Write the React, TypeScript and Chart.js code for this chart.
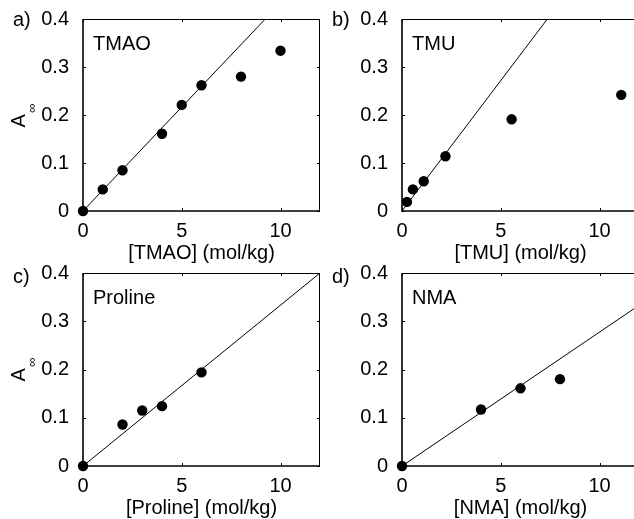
import React, { useEffect, useRef } from 'react';
import { Chart, registerables } from 'chart.js';

Chart.register(...registerables);

const FONT = '"Liberation Sans", Arial, Helvetica, sans-serif';
const FS = 20;

// ---- data ----
const tmaoX = [0, 1, 2, 4, 5, 6, 8, 10];
const tmaoY = [0, 0.045, 0.085, 0.161, 0.221, 0.262, 0.28, 0.334];
const tmaoFitX = [0, 9.23];
const tmaoFitY = [0, 0.4];

const tmuX = [0.25, 0.55, 1.1, 2.2, 5.55, 11.1];
const tmuY = [0.019, 0.045, 0.062, 0.114, 0.191, 0.242];
const tmuFitX = [0, 7.36];
const tmuFitY = [0, 0.4];

const prolineX = [0, 2, 3, 4, 6];
const prolineY = [0, 0.086, 0.115, 0.124, 0.194];
const prolineFitX = [0, 12];
const prolineFitY = [0, 0.4];

const nmaX = [0, 4, 6, 8];
const nmaY = [0, 0.117, 0.161, 0.18];
const nmaFitX = [0, 12];
const nmaFitY = [0, 0.333];

const xTicks = [0, 5, 10];
const yTicks = [0, 0.1, 0.2, 0.3, 0.4];
const xMin = 0;
const xMax = 12;
const yMin = 0;
const yMax = 0.4;

type PanelProps = {
  plotLeft: number;
  plotTop: number;
  plotW: number;
  plotH: number;
  xs: number[];
  ys: number[];
  fitX: number[];
  fitY: number[];
  letter: string;
  letterBaseline: number; // page y
  name: string;
  xTitle: string;
  showYTitle: boolean;
};

const LEFT = 83;
const TOP = 19;
const RIGHT_PAD = 12;
const BOTTOM = 60;

function Panel(p: PanelProps) {
  const ref = useRef<HTMLCanvasElement | null>(null);
  const canvasLeft = p.plotLeft - LEFT;
  const canvasTop = p.plotTop - TOP;
  const width = LEFT + p.plotW + RIGHT_PAD;
  const height = TOP + p.plotH + BOTTOM;

  useEffect(() => {
    if (!ref.current) return;
    const decor = {
      id: 'decor',
      beforeDatasetsDraw(chart: any) {
        const { ctx, chartArea: a, scales } = chart;
        const xs = scales.x;
        const ys = scales.y;
        ctx.save();
        ctx.strokeStyle = '#000';
        ctx.lineWidth = 1;
        // box
        ctx.beginPath();
        ctx.moveTo(a.left, a.top + 0.5);
        ctx.lineTo(a.right, a.top + 0.5);
        ctx.moveTo(a.right - 0.5, a.top);
        ctx.lineTo(a.right - 0.5, a.bottom);
        ctx.stroke();
        ctx.lineWidth = 1.6;
        ctx.beginPath();
        ctx.moveTo(a.left, a.top);
        ctx.lineTo(a.left, a.bottom);
        ctx.lineTo(a.right, a.bottom);
        ctx.stroke();
        // inward ticks
        ctx.lineWidth = 1;
        const tl = 3;
        ctx.beginPath();
        for (const v of xTicks) {
          const px = Math.round(xs.getPixelForValue(v)) + 0.5;
          ctx.moveTo(px, a.bottom);
          ctx.lineTo(px, a.bottom - tl);
          ctx.moveTo(px, a.top);
          ctx.lineTo(px, a.top + tl);
        }
        for (const v of yTicks) {
          const py = Math.round(ys.getPixelForValue(v)) + 0.5;
          ctx.moveTo(a.left, py);
          ctx.lineTo(a.left + tl, py);
          ctx.moveTo(a.right, py);
          ctx.lineTo(a.right - tl, py);
        }
        ctx.stroke();
        ctx.restore();
      },
      afterDraw(chart: any) {
        const { ctx, chartArea: a } = chart;
        ctx.save();
        ctx.fillStyle = '#000';
        ctx.font = `${FS}px ${FONT}`;
        ctx.textBaseline = 'alphabetic';
        // panel letter
        ctx.textAlign = 'left';
        ctx.fillText(p.letter, a.left - 70, p.letterBaseline - canvasTop);
        // inset name
        ctx.fillText(p.name, a.left + 10, a.top + 31);
        // x title
        ctx.textAlign = 'center';
        ctx.fillText(p.xTitle, (a.left + a.right) / 2, a.bottom + 48);
        // y title A_inf
        if (p.showYTitle) {
          ctx.translate(25, a.top + 108.5);
          ctx.rotate(-Math.PI / 2);
          ctx.textAlign = 'left';
          ctx.font = `${FS}px ${FONT}`;
          ctx.fillText('A', 0, 0);
          const aw = ctx.measureText('A').width;
          ctx.font = `13px ${FONT}`;
          ctx.fillText('\u221E', aw + 1.5, 11);
        }
        ctx.restore();
      },
    };

    const chart = new Chart(ref.current, {
      type: 'scatter',
      data: {
        datasets: [
          {
            data: p.xs.map((x, i) => ({ x, y: p.ys[i] })),
            backgroundColor: '#000',
            borderColor: '#000',
            borderWidth: 0,
            pointRadius: 5.2,
            pointHoverRadius: 5.2,
            clip: false,
            order: 0,
          } as any,
          {
            data: p.fitX.map((x, i) => ({ x, y: p.fitY[i] })),
            showLine: true,
            borderColor: '#000',
            borderWidth: 1,
            pointRadius: 0,
            order: 1,
          } as any,
        ],
      },
      options: {
        responsive: false,
        animation: false,
        events: [],
        layout: { padding: { left: 0, top: TOP, right: RIGHT_PAD, bottom: 0 } },
        plugins: {
          legend: { display: false },
          tooltip: { enabled: false },
          title: { display: false },
        },
        scales: {
          x: {
            type: 'linear',
            min: xMin,
            max: xMax,
            grid: { display: false },
            border: { display: false },
            afterFit: (s: any) => {
              s.height = BOTTOM;
            },
            afterBuildTicks: (s: any) => {
              s.ticks = xTicks.map((v) => ({ value: v }));
            },
            ticks: {
              padding: 0,
              color: '#000',
              font: { family: FONT, size: FS },
              maxRotation: 0,
              autoSkip: false,
              callback: (v: any) => String(v),
            },
          },
          y: {
            type: 'linear',
            min: yMin,
            max: yMax,
            grid: { display: false },
            border: { display: false },
            afterFit: (s: any) => {
              s.width = LEFT;
            },
            afterBuildTicks: (s: any) => {
              s.ticks = yTicks.map((v) => ({ value: v }));
            },
            ticks: {
              padding: 6,
              color: '#000',
              font: { family: FONT, size: FS },
              autoSkip: false,
              callback: (v: any) => String(+Number(v).toFixed(1)),
            },
          },
        },
      },
      plugins: [decor],
    } as any);
    return () => chart.destroy();
  }, []);

  return (
    <canvas
      ref={ref}
      width={width}
      height={height}
      style={{ position: 'absolute', left: canvasLeft, top: canvasTop, width, height, display: 'block' }}
    />
  );
}

export default function App() {
  return (
    <div
      style={{
        position: 'fixed',
        left: 0,
        top: 0,
        width: 634,
        height: 519,
        overflow: 'hidden',
        background: '#fff',
      }}
    >
      <Panel plotLeft={83} plotTop={19} plotW={237} plotH={192} xs={tmaoX} ys={tmaoY} fitX={tmaoFitX} fitY={tmaoFitY}
        letter="a)" letterBaseline={26} name="TMAO" xTitle="[TMAO] (mol/kg)" showYTitle={true} />
      <Panel plotLeft={402} plotTop={19} plotW={237} plotH={192} xs={tmuX} ys={tmuY} fitX={tmuFitX} fitY={tmuFitY}
        letter="b)" letterBaseline={26} name="TMU" xTitle="[TMU] (mol/kg)" showYTitle={false} />
      <Panel plotLeft={83} plotTop={273} plotW={237} plotH={193} xs={prolineX} ys={prolineY} fitX={prolineFitX} fitY={prolineFitY}
        letter="c)" letterBaseline={283} name="Proline" xTitle="[Proline] (mol/kg)" showYTitle={true} />
      <Panel plotLeft={402} plotTop={273} plotW={237} plotH={193} xs={nmaX} ys={nmaY} fitX={nmaFitX} fitY={nmaFitY}
        letter="d)" letterBaseline={283} name="NMA" xTitle="[NMA] (mol/kg)" showYTitle={false} />
    </div>
  );
}
